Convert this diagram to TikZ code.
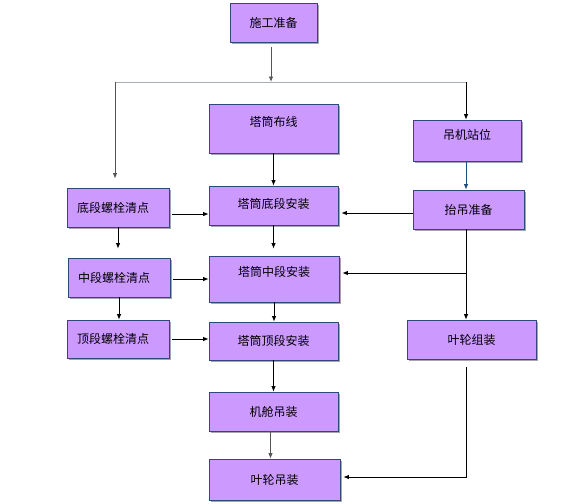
\documentclass[tikz,border=0pt]{standalone}
\usepackage{fontspec}
\newfontfamily\cjk{Noto Sans CJK SC}
\usetikzlibrary{arrows.meta,shadows}
\definecolor{boxfill}{HTML}{CC99FF}
\definecolor{boxline}{HTML}{2F4A7A}
\definecolor{greyline}{HTML}{A7ADB4}
\definecolor{darkgrey}{HTML}{555555}
\definecolor{blueline}{HTML}{1F4E79}
\newcommand\liftlabel[2]{\raisebox{#1}[\height][\depth]{#2}}
\newcommand\leftlabel[1]{#1\hspace*{10pt}}
\tikzset{
  procbox/.style={draw=boxline, line width=0.7pt, fill=boxfill, inner sep=0pt,
    font=\cjk\fontsize{12}{14}\selectfont,
    drop shadow={shadow xshift=2pt, shadow yshift=-2pt, fill=black!35, opacity=1}},
  flow/.style={-{Latex[length=5.5pt,width=4.5pt]}, line width=0.9pt, black},
}
\begin{document}
\begin{tikzpicture}[x=1pt,y=-1pt]
                \useasboundingbox (0,0) rectangle (575,503);%
                
                % Boxes of the middle column
                \node (shigong) [procbox, minimum width=87pt, minimum height=39pt] at (273.5,22.5) {施工准备};%
                \node (buxian) [procbox, minimum width=129pt, minimum height=49pt] at (273.5,128.5) {\liftlabel{7pt}{塔筒布线}};%
                \node (di) [procbox, minimum width=129pt, minimum height=39pt] at (273.5,205.5) {\liftlabel{2pt}{塔筒底段安装}};%
                \node (zhong) [procbox, minimum width=130pt, minimum height=46pt] at (274,279) {\liftlabel{7pt}{塔筒中段安装}};%
                \node (ding) [procbox, minimum width=129pt, minimum height=38pt] at (273.5,341) {塔筒顶段安装};%
                \node (jicang) [procbox, minimum width=129pt, minimum height=39pt] at (273.5,411.5) {机舱吊装};%
                \node (yelundz) [procbox, minimum width=131pt, minimum height=41pt] at (274.5,479.5) {叶轮吊装};%
                
                % Boxes of the left column
                \node (dibolt) [procbox, minimum width=102pt, minimum height=39pt] at (118,207.5) {\leftlabel{底段螺栓清点}};%
                \node (zhongbolt) [procbox, minimum width=102pt, minimum height=39pt] at (119,277.5) {\leftlabel{中段螺栓清点}};%
                \node (dingbolt) [procbox, minimum width=102pt, minimum height=38pt] at (118,339) {\leftlabel{顶段螺栓清点}};%
                
                % Boxes of the right column
                \node (diaoji) [procbox, minimum width=108pt, minimum height=41pt] at (467,140.5) {\liftlabel{6pt}{吊机站位}};%
                \node (taidiao) [procbox, minimum width=111pt, minimum height=39pt] at (468.5,209.5) {抬吊准备};%
                \node (yelunzz) [procbox, minimum width=129pt, minimum height=39pt] at (471.5,339.5) {叶轮组装};%
                
                % Split points
                \coordinate (split) at (271,82);%
                \coordinate (lefttop) at (115,82);%
                \coordinate (righttop) at (466,82);%
                \coordinate (branch) at (466,273);%
                
                % Drawing the split below shigong
                \draw [flow, darkgrey, shorten <=5pt] (split |- shigong.south) -- (split);%
                \draw [line width=0.9pt, greyline] (lefttop) -- (righttop);%
                \draw [flow, darkgrey, shorten >=9pt] (lefttop) -- (lefttop |- dibolt.north);%
                \draw [flow] (righttop) -- (righttop |- diaoji.north);%
                
                % Drawing the middle column
                \draw [flow] (buxian.south) -- (di.north);%
                \draw [flow, shorten >=7pt] (di.south) -- (di.south |- zhong.north);%
                \draw [flow] (zhong.south) -- (zhong.south |- ding.north);%
                \draw [flow] (ding.south) -- (ding.south |- jicang.north);%
                \draw [flow, darkgrey] ([xshift=-3pt]jicang.south) -- ([xshift=-3pt]jicang.south |- yelundz.north);%
                
                % Drawing the left column
                \draw [flow, shorten >=9pt] (dibolt.south) -- (dibolt.south |- zhongbolt.north);%
                \draw [flow] (zhongbolt.south) -- (zhongbolt.south |- dingbolt.north);%
                \draw [flow, shorten <=3pt] ([yshift=-6.5pt]dibolt.east) -- ([yshift=-6.5pt]dibolt.east -| di.west);%
                \draw [flow, shorten <=3pt] ([yshift=-1.5pt]zhongbolt.east) -- ([yshift=-1.5pt]zhongbolt.east -| zhong.west);%
                \draw [flow, shorten <=3pt] (dingbolt.east) -- (dingbolt.east -| ding.west);%
                
                % Drawing the right column
                \draw [flow, blueline] ([xshift=-1pt]diaoji.south) -- ([xshift=-1pt]diaoji.south |- taidiao.north);%
                \draw [flow, shorten >=3pt] ([yshift=-3.5pt]taidiao.west) -- ([yshift=-3.5pt]taidiao.west -| di.east);%
                \draw [flow] (branch |- taidiao.south) -- (branch |- yelunzz.north);%
                \draw [flow, shorten >=3pt] (branch) -- (branch -| zhong.east);%
                \draw [flow, shorten <=8pt, shorten >=3pt] (branch |- yelunzz.south) |- ([yshift=2.5pt]yelundz.east);%
\end{tikzpicture}
\end{document}
